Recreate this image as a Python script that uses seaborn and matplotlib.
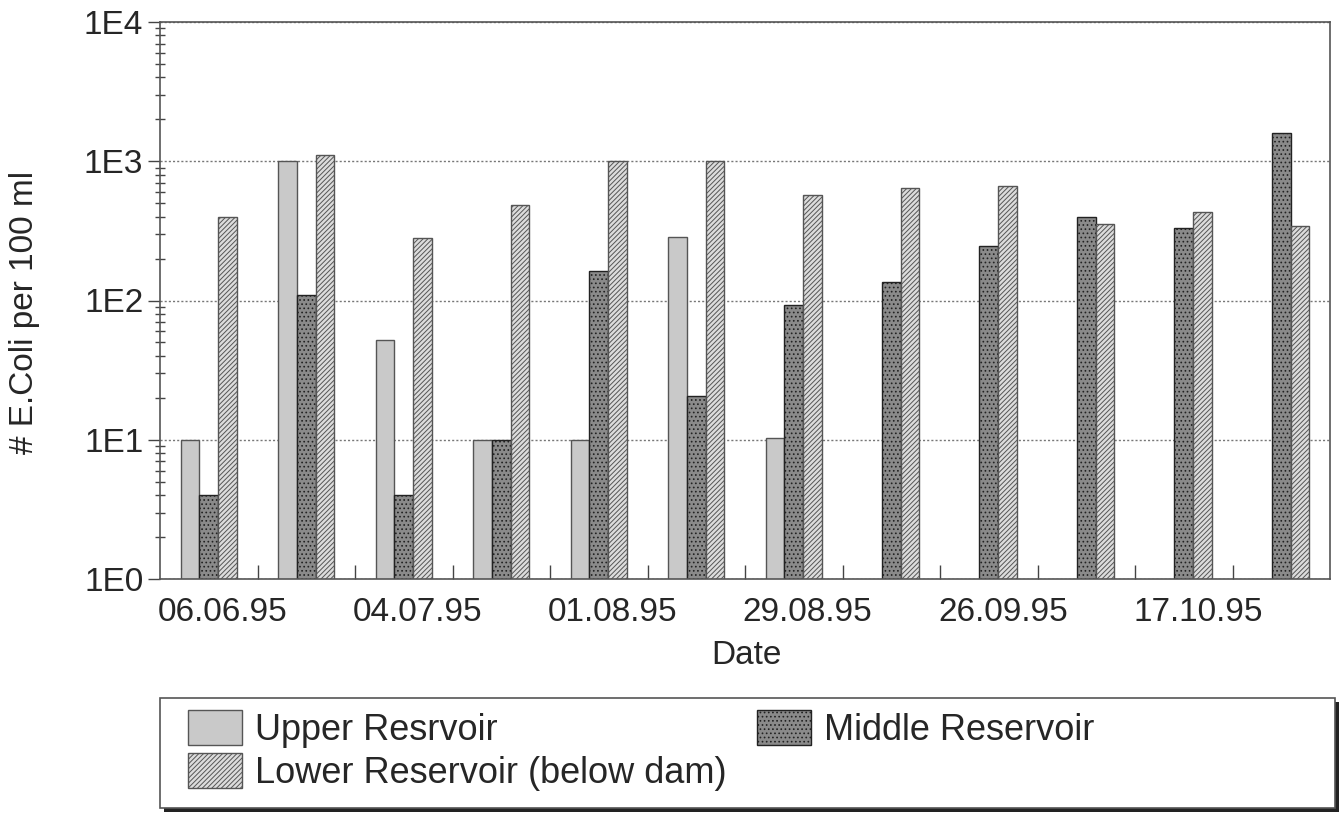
import numpy as np
import pandas as pd
import matplotlib
matplotlib.use("Agg")
import matplotlib.pyplot as plt
import seaborn as sns
from matplotlib.patches import Patch, Rectangle
from matplotlib.ticker import LogLocator, FixedLocator, NullFormatter
from matplotlib.transforms import ScaledTranslation

dates = ["06.06.95", "d2", "04.07.95", "d4", "01.08.95", "d6",
         "29.08.95", "d8", "26.09.95", "d10", "17.10.95", "d12"]
tick_labels = ["06.06.95", "04.07.95", "01.08.95", "29.08.95", "26.09.95", "17.10.95"]
series = ["Upper Resrvoir", "Middle Reservoir", "Lower Reservoir (below dam)"]
upper = [10, 1000, 52, 10, 10, 287, 10.3, np.nan, np.nan, np.nan, np.nan, np.nan]
middle = [4, 110, 4, 10, 163, 20.5, 93, 135, 248, 400, 334, 1585]
lower = [400, 1110, 280, 485, 1000, 1000, 573, 640, 667, 352, 432, 344]

df = pd.DataFrame({
    "Date": dates * 3,
    "Series": [series[0]] * 12 + [series[1]] * 12 + [series[2]] * 12,
    "Value": upper + middle + lower,
})

sns.set_theme(style="white")
plt.rcParams["font.family"] = ["Liberation Sans", "DejaVu Sans"]
plt.rcParams["hatch.linewidth"] = 0.7

FS = 24
W, H = 1339, 814
fig = plt.figure(figsize=(W / 100, H / 100), dpi=100)
ax = fig.add_axes([160 / W, 1 - 579 / H, (1330 - 160) / W, (579 - 22) / H])
ax.set_yscale("log")

face = {series[0]: "#c9c9c9", series[1]: "#8a8a8a", series[2]: "#dcdcdc"}
sns.barplot(data=df, x="Date", y="Value", hue="Series", hue_order=series,
            order=dates, palette=face, width=0.57, dodge=True, ax=ax,
            legend=False, errorbar=None, saturation=1)

styles = {
    series[0]: dict(hatch=None, edgecolor="#555555"),
    series[1]: dict(hatch="....", edgecolor="#222222"),
    series[2]: dict(hatch="///////", edgecolor="#555555"),
}
for cont, name in zip(ax.containers, series):
    for p in cont.patches:
        p.set_edgecolor(styles[name]["edgecolor"])
        p.set_linewidth(1.0)
        if styles[name]["hatch"]:
            p.set_hatch(styles[name]["hatch"])

ax.set_ylim(1, 1e4)
ax.set_xlim(-0.5, 11.5)
ax.yaxis.set_major_locator(FixedLocator([1, 10, 100, 1000, 10000]))
ax.set_yticklabels(["1E0", "1E1", "1E2", "1E3", "1E4"], fontsize=FS)
ax.yaxis.set_minor_locator(LogLocator(base=10, subs=np.arange(2, 10), numticks=20))
ax.yaxis.set_minor_formatter(NullFormatter())
ax.tick_params(axis="y", which="major", direction="out", length=9, width=1, color="#444444", pad=3, left=True)
ax.tick_params(axis="y", which="minor", direction="inout", length=7, width=1, color="#444444", left=True)

# x: labels at group centers, tick marks at group boundaries
ax.set_xticks([0, 2, 4, 6, 8, 10])
ax.set_xticklabels(tick_labels, fontsize=FS)
ax.set_xticks(np.arange(0.5, 11.5, 1.0), minor=True)
ax.tick_params(axis="x", which="major", length=0, pad=13, bottom=True)
ax.tick_params(axis="x", which="minor", direction="in", length=10, width=1, color="#444444", bottom=True)
for lbl in ax.get_xticklabels():
    lbl.set_transform(lbl.get_transform() + ScaledTranslation(14 / 100, 0, fig.dpi_scale_trans))

ax.grid(axis="y", which="major", linestyle=(0, (1.5, 1.5)), color="#777777", linewidth=1)
ax.set_axisbelow(True)
for s in ax.spines.values():
    s.set_visible(True)
    s.set_color("#555555")
    s.set_linewidth(1.2)

ax.set_xlabel("Date", fontsize=FS)
ax.set_ylabel("# E.Coli per 100 ml", fontsize=FS)
ax.xaxis.set_label_coords((746 - 160) / 1170, -(640 - 579) / 557)
ax.yaxis.set_label_coords((40 - 160) / 1170, (579 - 312) / 557)

# legend frame with shadow
fx0, fy0, fx1, fy1 = 160, 698, 1335, 808
fig.patches.append(Rectangle(((fx0 + 4) / W, 1 - (fy1 + 4) / H), (fx1 - fx0) / W, (fy1 - fy0) / H,
                             transform=fig.transFigure, facecolor="#222222", edgecolor="none", zorder=0))
fig.patches.append(Rectangle((fx0 / W, 1 - fy1 / H), (fx1 - fx0) / W, (fy1 - fy0) / H,
                             transform=fig.transFigure, facecolor="white", edgecolor="#555555",
                             linewidth=1.2, zorder=0.5))

def mk(name):
    return Patch(facecolor=face[name], edgecolor=styles[name]["edgecolor"],
                 hatch=styles[name]["hatch"], label=name)

common = dict(loc="upper left", bbox_transform=fig.transFigure, fontsize=26, frameon=False,
              handlelength=1.5, handleheight=1.1, handletextpad=0.35,
              labelspacing=0.15, borderaxespad=0, borderpad=0)
fig.legend(handles=[mk(series[0]), mk(series[2])], bbox_to_anchor=(188 / W, 1 - 710 / H), **common)
fig.legend(handles=[mk(series[1])], bbox_to_anchor=(757 / W, 1 - 710 / H), **common)

fig.savefig("out.png", dpi=100, facecolor="white")
